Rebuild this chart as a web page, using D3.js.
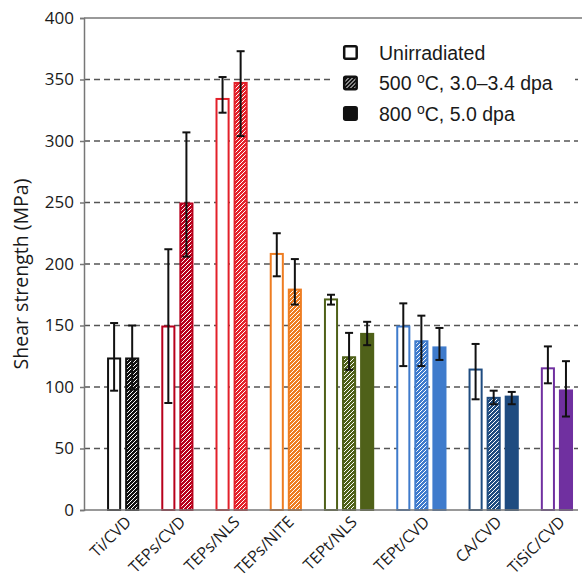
<!DOCTYPE html>
<html>
<head>
<meta charset="utf-8">
<script src="https://cdn.jsdelivr.net/npm/d3@7"></script>
<style>
  body { margin: 0; background: #fff; }
  svg { display: block; }
</style>
</head>
<body>
<div class="svg-div"></div>
<script>
// data
var categories = ["Ti/CVD", "TEPs/CVD", "TEPs/NLS", "TEPs/NITE", "TEPt/NLS", "TEPt/CVD", "CA/CVD", "TiSiC/CVD"]
var colors = ["#111111", "#b8001c", "#e3202a", "#ee7d22", "#4f6119", "#3f7bcc", "#1f4c80", "#7030a0"]

var unirradiated = [124, 150, 335, 209, 172, 150, 115, 116]
var unirrLow = [97, 87, 323, 190, 167, 117, 90, 103]
var unirrHigh = [152, 212, 352, 225, 175, 168, 135, 133]

var irr500 = [124, 250, 348, 180, 125, 138, 92, null]
var irr500Low = [98, 206, 304, 167, 114, 117, 86, null]
var irr500High = [150, 307, 373, 204, 144, 158, 97, null]

var irr800 = [null, null, null, null, 144, 133, 93, 98]
var irr800Low = [null, null, null, null, 134, 122, 86, 76]
var irr800High = [null, null, null, null, 153, 148, 96, 121]

var yTicks = [0, 50, 100, 150, 200, 250, 300, 350, 400]

var width = 582, height = 581
var plotLeft = 84, plotTop = 18, plotBottom = 510, plotRight = 578

// build one slot per bar, with one empty slot before each group
var bars = []
var slots = []
var groupCenters = []
categories.forEach(function(c, i) {
    slots.push("gap" + i)
    var first = slots.length
    var list = [
        {kind: "u", v: unirradiated[i], lo: unirrLow[i], hi: unirrHigh[i]},
        {kind: "h", v: irr500[i], lo: irr500Low[i], hi: irr500High[i]},
        {kind: "s", v: irr800[i], lo: irr800Low[i], hi: irr800High[i]}
    ]
    list.forEach(function(b) {
        if (b.v === null) return
        var id = c + b.kind
        slots.push(id)
        bars.push({cat: i, slot: id, kind: b.kind, v: b.v, lo: b.lo, hi: b.hi})
    })
    groupCenters.push({cat: c, from: slots[first], to: slots[slots.length - 1]})
})

var x = d3.scaleBand().domain(slots).range([87, 575]).paddingInner(0.22).paddingOuter(0.11)
var y = d3.scaleLinear().domain([0, 400]).range([plotBottom, plotTop])

var svg = d3.select(".svg-div").append("svg")
    .attr("width", width).attr("height", height)

var defs = svg.append("defs")
function hatch(id, color) {
    var p = defs.append("pattern")
        .attr("id", id)
        .attr("patternUnits", "userSpaceOnUse")
        .attr("width", 4).attr("height", 4)
    p.append("rect").attr("width", 4).attr("height", 4).attr("fill", color)
    p.append("path")
        .attr("d", "M-1,1 l2,-2 M0,4 l4,-4 M3,5 l2,-2")
        .attr("stroke", "#fff").attr("stroke-width", 1)
}
colors.forEach(function(c, i) { hatch("hatch" + i, c) })
hatch("hatchLegend", "#111")

// grid
svg.append("g").selectAll("line")
    .data(yTicks.filter(function(d) { return d > 0 && d < 400 }))
    .join("line")
    .attr("x1", plotLeft).attr("x2", plotRight)
    .attr("y1", function(d) { return y(d) }).attr("y2", function(d) { return y(d) })
    .attr("stroke", "#555").attr("stroke-width", 1.3)
    .attr("stroke-dasharray", "6,4")

// legend background hides part of the 350 line
svg.append("rect").attr("x", 330).attr("y", 32).attr("width", 245).attr("height", 96).attr("fill", "#fff")

// top border
svg.append("line").attr("x1", plotLeft).attr("x2", width).attr("y1", y(400)).attr("y2", y(400))
    .attr("stroke", "#777").attr("stroke-width", 1.5)

// y axis
var yAxis = d3.axisLeft(y).tickValues(yTicks).tickSize(4).tickPadding(6)
var gy = svg.append("g").attr("transform", "translate(" + plotLeft + ",0)").call(yAxis)
gy.select(".domain").attr("stroke", "#777").attr("stroke-width", 1.5)
gy.selectAll(".tick line").attr("stroke", "#777").attr("stroke-width", 1.5)
gy.selectAll(".tick text")
    .attr("font-family", "'Open Sans', sans-serif").attr("font-size", 17).attr("fill", "#1a1a1a")

svg.append("text")
    .attr("transform", "translate(28," + ((plotTop + plotBottom) / 2 + 10) + ") rotate(-90)")
    .attr("text-anchor", "middle")
    .attr("font-family", "'Open Sans', sans-serif").attr("font-size", 19.5).attr("fill", "#1a1a1a")
    .text("Shear strength (MPa)")

// bars
var bw = x.bandwidth()
svg.append("g").selectAll("rect")
    .data(bars)
    .join("rect")
    .attr("x", function(d) { return x(d.slot) + 1 })
    .attr("y", function(d) { return y(d.v) + 1 })
    .attr("width", bw - 2)
    .attr("height", function(d) { return y(0) - y(d.v) - 1 })
    .attr("fill", function(d) {
        if (d.kind === "u") return "#fff"
        if (d.kind === "h") return "url(#hatch" + d.cat + ")"
        return colors[d.cat]
    })
    .attr("stroke", function(d) { return colors[d.cat] })
    .attr("stroke-width", 2)

// bottom axis line
svg.append("line").attr("x1", plotLeft).attr("x2", plotRight).attr("y1", plotBottom).attr("y2", plotBottom)
    .attr("stroke", "#777").attr("stroke-width", 1.5)

// error bars
var eb = svg.append("g").attr("stroke", "#111").attr("stroke-width", 2)
bars.forEach(function(d) {
    var cx = x(d.slot) + bw / 2
    eb.append("line").attr("x1", cx).attr("x2", cx).attr("y1", y(d.lo)).attr("y2", y(d.hi))
    eb.append("line").attr("x1", cx - 4).attr("x2", cx + 4).attr("y1", y(d.lo)).attr("y2", y(d.lo))
    eb.append("line").attr("x1", cx - 4).attr("x2", cx + 4).attr("y1", y(d.hi)).attr("y2", y(d.hi))
})

// category labels
svg.append("g").selectAll("text")
    .data(groupCenters)
    .join("text")
    .attr("transform", function(d) {
        var cx = (x(d.from) + x(d.to) + bw) / 2
        return "translate(" + (cx + 9) + ",523) rotate(-45)"
    })
    .attr("text-anchor", "end")
    .attr("font-family", "'Open Sans', sans-serif").attr("font-size", 16).attr("fill", "#1a1a1a")
    .text(function(d) { return d.cat })

// legend
var legendItems = [
    {fill: "#fff", label: ["Unirradiated"]},
    {fill: "url(#hatchLegend)", label: ["500 ", "o", "C, 3.0\u20133.4 dpa"]},
    {fill: "#111", label: ["800 ", "o", "C, 5.0 dpa"]}
]
var lg = svg.append("g").attr("transform", "translate(343,45)")
legendItems.forEach(function(d, i) {
    var g = lg.append("g").attr("transform", "translate(0," + (i * 30.5) + ")")
    g.append("rect").attr("x", 1.2).attr("y", 1.2).attr("width", 12.5).attr("height", 12.5)
        .attr("rx", 1.5).attr("fill", d.fill).attr("stroke", "#111").attr("stroke-width", 2.5)
    var t = g.append("text").attr("x", 36).attr("y", 14.5)
        .attr("font-family", "'Liberation Sans', Arial, sans-serif").attr("font-size", 19.5).attr("fill", "#1a1a1a")
    if (d.label.length === 1) {
        t.text(d.label[0])
    } else {
        t.append("tspan").text(d.label[0])
        t.append("tspan").attr("dy", -7).attr("font-size", 14).text(d.label[1])
        t.append("tspan").attr("dy", 7).text(d.label[2])
    }
})
</script>
</body>
</html>
